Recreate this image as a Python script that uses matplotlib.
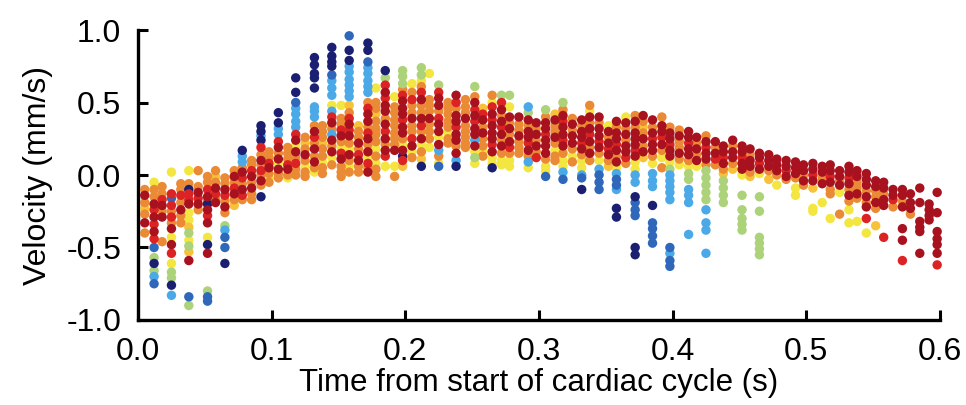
import matplotlib
matplotlib.use("Agg")
import matplotlib.pyplot as plt

plt.rcParams['font.family'] = ['Liberation Sans', 'DejaVu Sans']

# sample times (s), one column of dots per sample
times = [0.005, 0.012, 0.018, 0.025, 0.032, 0.038, 0.045, 0.052, 0.058, 0.065,
         0.072, 0.078, 0.085, 0.092, 0.098, 0.105, 0.112, 0.118, 0.125, 0.132,
         0.138, 0.145, 0.152, 0.158, 0.165, 0.172, 0.178, 0.185, 0.192, 0.198,
         0.205, 0.212, 0.218, 0.225, 0.232, 0.238, 0.245, 0.252, 0.258, 0.265,
         0.272, 0.278, 0.285, 0.292, 0.298, 0.305, 0.312, 0.318, 0.325, 0.332,
         0.338, 0.345, 0.352, 0.358, 0.365, 0.372, 0.378, 0.385, 0.392, 0.398,
         0.405, 0.412, 0.418, 0.425, 0.432, 0.438, 0.445, 0.452, 0.458, 0.465,
         0.472, 0.478, 0.485, 0.492, 0.498, 0.505, 0.512, 0.518, 0.525, 0.532,
         0.538, 0.545, 0.552, 0.558, 0.565, 0.572, 0.578, 0.585, 0.592, 0.598]

# velocities (mm/s) per sample, letter = trace colour group
columns = [
    "o-0.10 d-0.14 o-0.19 a-0.23 o-0.27 d-0.33 o-0.40",
    "y-0.05 o-0.10 o-0.15 d-0.20 r-0.24 d-0.29 r-0.34 d-0.39 r-0.44 b-0.50 g-0.57 n-0.61 g-0.66 s-0.70 b-0.75",
    "o-0.08 o-0.13 r-0.17 d-0.21 o-0.25 d-0.29 o-0.46",
    "y0.02 r-0.13 b-0.16 r-0.21 o-0.25 r-0.29 o-0.33 d-0.37 y-0.43 d-0.48 r-0.54 y-0.61 g-0.67 g-0.71 n-0.76 s-0.83",
    "o-0.06 o-0.10 r-0.14 o-0.19 d-0.24 o-0.28 o-0.33",
    "y0.03 o-0.06 n-0.10 r-0.13 r-0.17 d-0.20 y-0.26 y-0.31 a-0.36 g-0.40 y-0.45 g-0.49 a-0.53 d-0.59 b-0.84 g-0.90",
    "o0.03 o-0.08 d-0.12 r-0.16 d-0.20 o-0.24",
    "o-0.01 o-0.05 r-0.10 d-0.15 o-0.18 n-0.20 d-0.24 r-0.28 d-0.33 y-0.43 n-0.48 d-0.54 g-0.80 b-0.84 b-0.87",
    "o0.03 a-0.01 o-0.05 d-0.09 r-0.13 o-0.16 d-0.19",
    "o-0.02 o-0.06 d-0.10 r-0.14 o-0.18 d-0.22 o-0.26 g-0.35 s-0.38 b-0.43 b-0.50 n-0.61",
    "o0.03 d-0.01 o-0.05 r-0.09 d-0.13 o-0.17 a-0.21",
    "n0.17 s0.13 s0.09 o0.05 d0.02 r-0.02 o-0.06 d-0.10 r-0.14 o-0.17",
    "o0.10 o0.07 r0.03 d-0.01 o-0.05 d-0.09 o-0.13 o-0.17",
    "n0.34 n0.30 s0.27 n0.24 r0.19 o0.14 d0.10 o0.07 r0.03 o0.00 d-0.04 o-0.07 n-0.15",
    "o0.16 o0.12 r0.08 d0.05 o0.01 y-0.02 o-0.05",
    "n0.43 n0.36 s0.32 s0.28 r0.23 d0.19 o0.15 d0.11 y0.08 d0.04 o0.01 o-0.02",
    "o0.19 o0.15 o0.11 r0.07 d0.04 o0.00 y-0.02",
    "n0.67 n0.57 b0.50 s0.46 s0.42 s0.37 s0.33 r0.28 d0.24 y0.20 d0.16 o0.12 r0.08 o0.04 o0.00",
    "o0.26 a0.22 o0.18 d0.14 o0.10 y0.06 o0.02 o-0.01",
    "n0.81 n0.76 n0.70 n0.67 n0.60 s0.47 s0.44 s0.40 o0.34 d0.30 r0.26 o0.22 d0.18 o0.13 d0.09 o0.05 y0.02",
    "o0.34 o0.30 o0.26 a0.22 o0.18 o0.13 y0.09 o0.05 o0.01",
    "n0.88 n0.82 n0.78 n0.75 b0.69 s0.65 s0.60 s0.55 y0.48 s0.44 r0.40 d0.36 o0.32 s0.28 d0.24 o0.20 d0.16 y0.12 o0.07",
    "y0.48 o0.39 o0.35 r0.31 d0.27 o0.23 y0.19 r0.15 d0.11 o0.06 o0.02 o-0.01",
    "b0.96 n0.86 n0.79 s0.75 s0.71 s0.66 s0.62 s0.58 s0.54 a0.48 o0.43 r0.39 d0.35 r0.31 d0.27 o0.22 y0.18 d0.14 o0.10 y0.06 o0.02",
    "a0.34 o0.30 o0.26 d0.22 o0.18 r0.14 d0.10 o0.06 o0.02",
    "n0.91 n0.86 b0.78 s0.74 s0.70 s0.65 s0.61 s0.57 o0.50 r0.46 d0.42 d0.37 o0.33 r0.29 d0.25 o0.21 d0.16 y0.12 r0.08 o0.05 d0.02",
    "y0.60 o0.50 o0.46 a0.42 o0.37 o0.32 o0.28 o0.23 y0.18 o0.13 y0.08 o0.04 o-0.01",
    "n0.72 g0.67 r0.62 d0.57 r0.53 d0.48 d0.44 o0.39 d0.35 r0.30 d0.25 o0.21 d0.17 r0.13 y0.06",
    "y0.54 o0.47 o0.43 o0.38 o0.34 o0.29 o0.25 o0.21 d0.17 y0.06 o-0.01",
    "g0.72 g0.68 g0.63 o0.59 r0.55 d0.51 d0.46 d0.42 r0.38 d0.33 d0.29 o0.25 y0.21 d0.17 n0.13 r0.10 a0.06",
    "y0.63 o0.57 r0.52 o0.48 o0.43 d0.39 o0.34 o0.30 r0.25 d0.20 y0.16 o0.12",
    "g0.74 g0.69 y0.65 o0.61 r0.57 d0.52 o0.48 o0.43 d0.39 r0.34 o0.30 d0.25 y0.21 o0.16 a0.11 n0.06",
    "y0.70 o0.52 o0.48 o0.44 d0.39 o0.35 o0.30 o0.25 y0.19",
    "g0.62 r0.57 d0.53 d0.48 o0.44 r0.39 d0.35 d0.30 y0.26 d0.21 s0.17 o0.13 y0.08 b0.06",
    "o0.50 o0.46 o0.42 o0.37 o0.33 y0.29 o0.25 o0.22",
    "d0.55 r0.50 o0.46 d0.41 d0.37 r0.33 d0.28 d0.24 o0.20 d0.15 s0.10 n0.06",
    "o0.52 o0.47 o0.43 d0.39 o0.34 o0.30 o0.26 o0.22 o0.19",
    "g0.61 o0.54 d0.50 r0.45 d0.41 r0.37 d0.32 d0.28 s0.24 d0.20 y0.16 g0.12 y0.08",
    "a0.46 r0.42 d0.38 o0.33 d0.29 o0.25 o0.20 y0.16 o0.13",
    "o0.55 y0.50 r0.47 d0.42 r0.38 d0.34 d0.29 d0.25 r0.21 d0.16 y0.12 y0.08 n0.05",
    "g0.55 r0.50 d0.45 o0.41 d0.37 r0.33 d0.28 o0.24 d0.20 o0.15 y0.10 y0.07",
    "g0.55 y0.47 d0.40 o0.36 d0.32 o0.28 d0.23 r0.19 o0.15 y0.10 y0.06",
    "d0.40 o0.35 o0.31 d0.27 o0.23 o0.19 o0.15",
    "s0.47 g0.43 d0.38 o0.34 d0.30 d0.26 r0.22 d0.17 o0.13 s0.09 y0.05",
    "d0.36 o0.32 d0.28 o0.24 d0.20 o0.16 r0.12",
    "g0.45 o0.40 d0.36 d0.32 r0.28 d0.24 d0.20 d0.15 o0.11 y0.06 y0.03 b-0.01",
    "a0.42 d0.38 o0.34 o0.30 d0.26 o0.22 y0.17 o0.13 o0.10",
    "g0.50 o0.45 d0.41 r0.37 d0.33 d0.28 r0.24 d0.20 o0.15 y0.10 y0.06 s0.02 b-0.03",
    "o0.39 d0.35 o0.31 d0.27 d0.22 o0.18 y0.13 o0.09",
    "d0.38 o0.34 d0.30 d0.26 r0.22 d0.18 o0.14 y0.10 y0.05 s0.00 b-0.02 n-0.10",
    "o0.48 y0.44 d0.40 o0.36 d0.32 r0.28 d0.23 o0.19 d0.15 o0.10",
    "d0.40 o0.36 d0.32 d0.27 r0.23 d0.19 o0.15 y0.10 s0.04 b0.00 b-0.05 b-0.10",
    "y0.34 d0.30 o0.26 d0.22 r0.18 d0.14 o0.10 a0.06",
    "d0.37 o0.33 d0.29 d0.25 r0.21 d0.17 o0.13 d0.09 y0.05 s0.01 b-0.03 b-0.07 s-0.10 n-0.23 n-0.29",
    "y0.40 d0.36 o0.32 d0.28 o0.24 d0.20 d0.16 r0.12 o0.08",
    "o0.41 d0.37 o0.33 d0.29 d0.25 d0.21 r0.17 d0.13 y0.09 y0.04 s0.00 s-0.05 n-0.15 b-0.19 b-0.24 b-0.28 n-0.50 n-0.55",
    "d0.41 o0.37 a0.33 o0.29 d0.25 o0.20 d0.16 a0.12",
    "d0.38 o0.33 d0.29 r0.25 d0.21 d0.17 o0.13 y0.08 s0.01 s-0.04 s-0.08 n-0.21 b-0.33 b-0.37 b-0.42 b-0.47",
    "o0.40 d0.34 d0.30 r0.26 d0.21 o0.17 y0.12 o0.05",
    "o0.33 d0.29 d0.25 r0.21 d0.17 d0.13 y0.09 g0.04 s0.00 s-0.04 s-0.08 s-0.12 s-0.17 b-0.50 s-0.54 b-0.59 b-0.63",
    "o0.31 d0.27 o0.23 o0.19 d0.15 o0.11 y0.07",
    "d0.30 d0.26 r0.22 d0.18 d0.14 o0.10 y0.06 g0.01 g-0.03 s-0.10 s-0.14 s-0.19 s-0.41",
    "d0.26 o0.22 d0.18 o0.14 d0.10 y0.06",
    "o0.27 d0.23 r0.19 d0.15 d0.11 o0.07 g0.03 g-0.02 g-0.07 g-0.12 g-0.17 s-0.24 s-0.33 s-0.38 s-0.54",
    "d0.23 o0.19 d0.15 r0.11 o0.07",
    "d0.20 d0.16 r0.12 d0.08 o0.04 a0.01 g-0.04 g-0.09 g-0.14 g-0.19",
    "d0.24 o0.20 d0.16 d0.12 o0.08 a0.04",
    "d0.20 d0.16 r0.12 d0.08 d0.04 y0.00 g-0.14 g-0.24 g-0.30 g-0.34 g-0.38",
    "d0.18 o0.14 d0.10 d0.06 o0.02 a-0.01",
    "d0.15 d0.12 r0.08 d0.04 y0.01 g-0.15 g-0.25 g-0.43 g-0.47 g-0.51 g-0.55",
    "d0.14 d0.10 d0.06 o0.03 a-0.03",
    "d0.11 d0.07 d0.03 o0.00 y-0.07",
    "d0.10 d0.06 r0.03 d-0.01 o-0.03",
    "d0.09 d0.05 d0.01 o-0.02 y-0.09 y-0.14",
    "d0.07 d0.03 o0.00 d-0.04 o-0.07",
    "d0.08 d0.04 r0.00 d-0.04 a-0.09 y-0.23 y-0.25",
    "d0.06 d0.02 o-0.02 d-0.06 y-0.19",
    "d0.07 d0.03 r-0.01 d-0.05 o-0.10 o-0.13 y-0.30",
    "d0.03 d-0.01 o-0.04 d-0.07 y-0.12 o-0.27",
    "d0.06 d0.02 r-0.02 d-0.06 o-0.10 d-0.14 o-0.18 y-0.24 y-0.33",
    "d0.03 d-0.01 o-0.05 o-0.09 d-0.13 o-0.16 y-0.32",
    "d0.01 d-0.03 d-0.07 o-0.11 d-0.15 o-0.19 d-0.22 r-0.30 y-0.40",
    "d-0.04 d-0.08 o-0.11 o-0.15 d-0.19 o-0.23 a-0.35",
    "d-0.05 d-0.09 o-0.13 d-0.17 d-0.21 r-0.43",
    "d-0.10 d-0.14 r-0.17 o-0.22",
    "d-0.10 d-0.14 o-0.18 d-0.22 d-0.37 d-0.45 r-0.59",
    "d-0.13 d-0.19 d-0.23 o-0.27",
    "d-0.09 d-0.19 d-0.32 d-0.36 d-0.39 d-0.54",
    "d-0.20 d-0.24 d-0.28 d-0.31",
    "d-0.12 d-0.26 d-0.39 d-0.44 d-0.48 d-0.54 r-0.62",
]

group_colors = {
    'y': '#f4e640', 'a': '#f7c23a', 'o': '#eb8a35', 'g': '#acd27a',
    's': '#4aa9e6', 'b': '#2f68bb', 'n': '#1b1f72', 'r': '#dc2324',
    'd': '#a8111e',
}
draw_order = ['y', 'a', 'o', 'g', 's', 'b', 'n', 'r', 'd']

xs = {k: [] for k in group_colors}
ys = {k: [] for k in group_colors}
for t, col in zip(times, columns):
    for item in col.split():
        xs[item[0]].append(t)
        ys[item[0]].append(float(item[1:]))

fig = plt.figure(figsize=(9.66, 4.05), dpi=100)
ax = fig.add_axes([0.1429, 0.2099, 0.830, 0.716])

for g in draw_order:
    ax.scatter(xs[g], ys[g], s=46, color=group_colors[g], edgecolors='none',
               zorder=3, clip_on=False)

ax.set_xlim(0, 0.6)
ax.set_ylim(-1.0, 1.0)
ax.set_xticks([0.0, 0.1, 0.2, 0.3, 0.4, 0.5, 0.6])
ax.set_yticks([-1.0, -0.5, 0.0, 0.5, 1.0])
ax.set_xticklabels(['0.0', '0.1', '0.2', '0.3', '0.4', '0.5', '0.6'])
ax.set_yticklabels(['-1.0', '-0.5', '0.0', '0.5', '1.0'])

for side in ['top', 'right']:
    ax.spines[side].set_visible(False)
for side in ['left', 'bottom']:
    ax.spines[side].set_linewidth(2.4)
ax.tick_params(direction='in', length=7, width=2.2, labelsize=23, pad=12)

ax.set_xlabel('Time from start of cardiac cycle (s)', fontsize=22.5, labelpad=1)
ax.set_ylabel('Velocity (mm/s)', fontsize=23, labelpad=10)

fig.savefig('out.png', dpi=100)
